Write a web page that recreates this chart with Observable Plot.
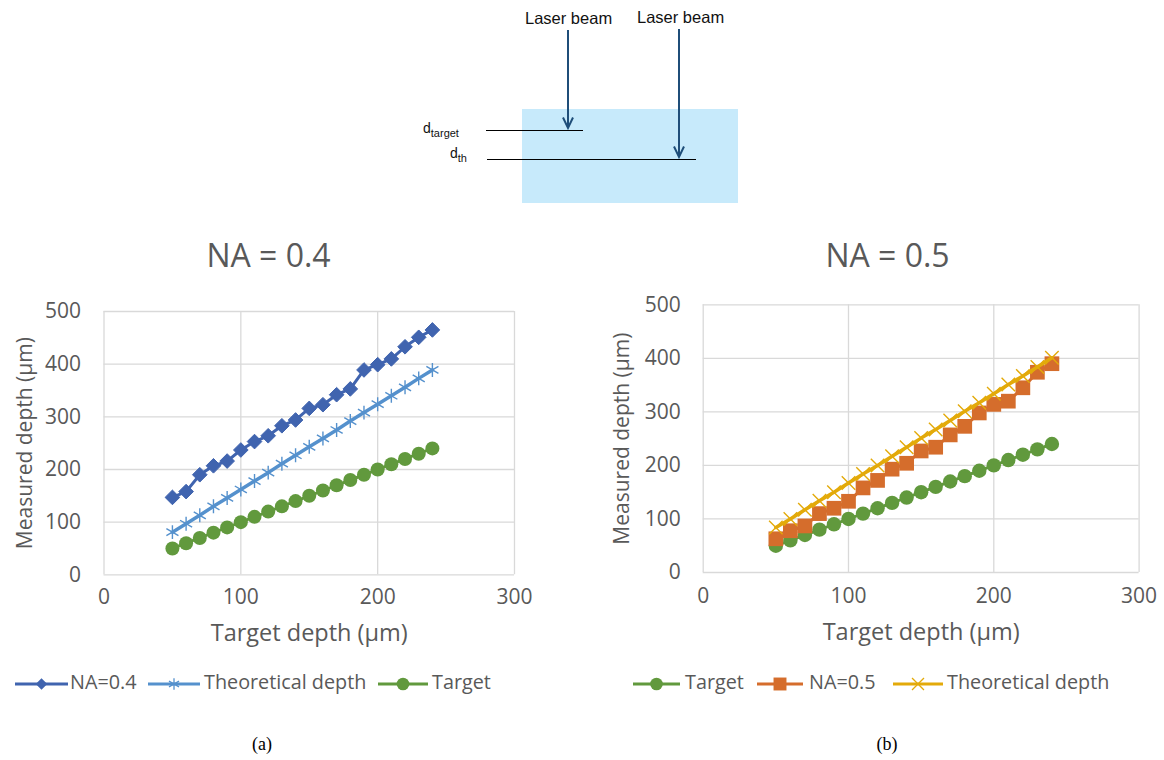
<!DOCTYPE html>
<html><head><meta charset="utf-8">
<script src="https://cdn.jsdelivr.net/npm/d3@7"></script>
<script src="https://cdn.jsdelivr.net/npm/@observablehq/plot@0.6"></script>
<style>
body{margin:0;background:#fff;width:1164px;height:760px;position:relative;overflow:hidden;font-family:"Open Sans",sans-serif;}
.abs{position:absolute;}
.lg{position:absolute;color:#595959;font-size:19.8px;white-space:nowrap;line-height:24px;}
.cap{position:absolute;font-family:"Liberation Serif",serif;font-size:18px;color:#000;transform:translateX(-50%);}
</style></head><body>
<svg class="abs" style="left:0;top:0" width="1164" height="215">
  <rect x="522" y="109" width="216" height="94" fill="#c7eafb"/>
  <g font-family="Liberation Sans, Arial, sans-serif" font-size="16.5" fill="#111">
    <text x="525" y="24">Laser beam</text>
    <text x="637" y="23">Laser beam</text>
  </g>
  <g stroke="#1f4e79" stroke-width="2" fill="none">
    <line x1="568" y1="30" x2="568" y2="127"/>
    <polyline points="563,117.5 568,128 573,117.5"/>
    <line x1="679" y1="29" x2="679" y2="156"/>
    <polyline points="674,146.5 679,157 684,146.5"/>
  </g>
  <g stroke="#000" stroke-width="1">
    <line x1="486" y1="130.5" x2="583" y2="130.5"/>
    <line x1="487" y1="159.5" x2="696" y2="159.5"/>
  </g>
  <g font-family="Liberation Sans, Arial, sans-serif" fill="#111">
    <text x="423" y="133" font-size="14">d<tspan font-size="11" dy="4">target</tspan></text>
    <text x="450" y="158" font-size="14">d<tspan font-size="11" dy="4">th</tspan></text>
  </g>
</svg>
<div id="chartA" class="abs" style="left:0;top:225px"></div>
<div id="chartB" class="abs" style="left:600px;top:225px"></div>
<div id="legendA"></div>
<div id="legendB"></div>
<div class="cap" style="left:262px;top:734px">(a)</div>
<div class="cap" style="left:887px;top:734px">(b)</div>
<script>
// ---- data ----
const depthA = [50,60,70,80,90,100,110,120,130,140,150,160,170,180,190,200,210,220,230,240];
const measuredNA04 = [147,158,190,207,216,237,253,264,283,294,316,323,342,353,389,399,410,433,451,465];
const theoreticalNA04 = [81,97,113,130,146,162,178,194,211,227,243,259,275,292,308,324,340,356,373,389];
const targetA = [50,60,70,80,90,100,110,120,130,140,150,160,170,180,190,200,210,220,230,240];

const depthB = [50,60,70,80,90,100,110,120,130,140,150,160,170,180,190,200,210,220,230,240];
const targetB = [50,60,70,80,90,100,110,120,130,140,150,160,170,180,190,200,210,220,230,240];
const measuredNA05 = [63,78,87,110,120,133,158,172,193,204,227,234,257,273,298,314,320,345,374,390];
const theoreticalNA05 = [84,100,117,134,150,167,184,200,217,234,251,267,284,301,317,334,351,367,384,401];

const xTicks = [0,100,200,300];
const yTicks = [0,100,200,300,400,500];
const titleA = "NA = 0.4";
const titleB = "NA = 0.5";
const xTitle = "Target depth (µm)";
const yTitle = "Measured depth (µm)";
const namesA = ["NA=0.4","Theoretical depth","Target"];
const namesB = ["Target","NA=0.5","Theoretical depth"];

// ---- styles ----
const GRAY = "#595959";
const styles = {
  "NA=0.4": {color:"#4064AF", symbol:"diamond2", r:6.6, filled:true, lw:3, sw:1, lr:5.2},
  "Theoretical depthA": {color:"#5591CD", symbol:"asterisk", r:6.6, filled:false, lw:3.5, sw:1.4, lr:5.5},
  "TargetA": {color:"#61993D", symbol:"circle", r:7, filled:true, lw:3, sw:0, lr:6.3},
  "TargetB": {color:"#61993D", symbol:"circle", r:7.2, filled:true, lw:3, sw:0, lr:6.3},
  "NA=0.5": {color:"#D56D2C", symbol:"square", r:8.3, filled:true, lw:3, sw:0, lr:7.3},
  "Theoretical depthB": {color:"#E3AA0A", symbol:"times", r:6.2, filled:false, lw:3.5, sw:1.4, lr:5.5}
};
const d3sym = {diamond2:d3.symbolDiamond2, asterisk:d3.symbolAsterisk, circle:d3.symbolCircle, square:d3.symbolSquare, times:d3.symbolTimes};

function chart(cfg) {
  const marks = [
    Plot.gridX(xTicks, {stroke:"#d9d9d9", strokeOpacity:1, strokeWidth:1.3}),
    Plot.gridY(yTicks, {stroke:"#d9d9d9", strokeOpacity:1, strokeWidth:1.3}),
    Plot.axisX(xTicks, {tickSize:0, tickPadding:cfg.xPad, fontSize:21, fill:GRAY, label:null}),
    Plot.axisY(yTicks, {tickSize:0, tickPadding:cfg.yPad, fontSize:21, fill:GRAY, label:null})
  ];
  for (const s of cfg.series) {
    const st = styles[s.key];
    const rows = s.x.map((x, i) => ({x, y: s.y[i]}));
    marks.push(Plot.line(rows, {x:"x", y:"y", stroke:st.color, strokeWidth:st.lw}));
    marks.push(Plot.dot(rows, {x:"x", y:"y", symbol:st.symbol, r:st.r,
      fill: st.filled ? st.color : "none", stroke: st.color, strokeWidth: st.sw}));
  }
  marks.push(Plot.text([cfg.title], {text:d=>d, frameAnchor:"top", lineAnchor:"middle", textAnchor:"middle",
    dx:cfg.titleDx, dy:cfg.titleDy, fontSize:32, fill:GRAY}));
  marks.push(Plot.text([xTitle], {text:d=>d, frameAnchor:"bottom", lineAnchor:"middle", textAnchor:"middle",
    dy:cfg.xTitleDy, fontSize:23.5, fill:GRAY}));
  marks.push(Plot.text([yTitle], {text:d=>d, frameAnchor:"left", lineAnchor:"middle", textAnchor:"middle",
    rotate:-90, dx:cfg.yTitleDx, fontSize:21, fill:GRAY}));
  return Plot.plot({
    width: cfg.width, height: cfg.height,
    marginLeft: cfg.ml, marginRight: cfg.mr, marginTop: cfg.mt, marginBottom: cfg.mb,
    x: {domain:[0,300]}, y: {domain:[0,500]},
    style: {fontFamily:"'Open Sans', sans-serif", background:"transparent", color:GRAY, overflow:"visible"},
    marks
  });
}

document.getElementById("chartA").append(chart({
  width:540, height:435, ml:103.5, mr:26, mt:86, mb:85.7,
  xPad:14, yPad:23, titleDx:-40.75, titleDy:-55, xTitleDy:59, yTitleDx:-79, title:titleA,
  series:[
    {key:"NA=0.4", x:depthA, y:measuredNA04},
    {key:"Theoretical depthA", x:depthA, y:theoreticalNA04},
    {key:"TargetA", x:depthA, y:targetA}
  ]
}));
document.getElementById("chartB").append(chart({
  width:564, height:435, ml:102.7, mr:25.4, mt:79.3, mb:88,
  xPad:16, yPad:22.5, titleDx:-33.65, titleDy:-48.3, xTitleDy:60, yTitleDx:-81, title:titleB,
  series:[
    {key:"TargetB", x:depthB, y:targetB},
    {key:"NA=0.5", x:depthB, y:measuredNA05},
    {key:"Theoretical depthB", x:depthB, y:theoreticalNA05}
  ]
}));

// ---- legends ----
function legend(id, items) {
  const host = document.getElementById(id);
  for (const it of items) {
    const st = styles[it.key];
    const w = it.x1 - it.x0;
    const svg = d3.create("svg").attr("width", w).attr("height", 20)
      .style("position","absolute").style("left", it.x0 + "px").style("top", "674px");
    svg.append("line").attr("x1",0).attr("x2",w).attr("y1",10).attr("y2",10)
      .attr("stroke", st.color).attr("stroke-width", 3);
    svg.append("path").attr("transform", `translate(${w/2},10)`)
      .attr("d", d3.symbol(d3sym[st.symbol], Math.PI * st.lr * st.lr)())
      .attr("fill", st.filled ? st.color : "none").attr("stroke", st.color)
      .attr("stroke-width", st.filled ? 0 : 1.3);
    host.append(svg.node());
    const t = document.createElement("div");
    t.className = "lg"; t.textContent = it.name;
    t.style.left = it.tx + "px"; t.style.top = "670px";
    host.append(t);
  }
}
legend("legendA", [
  {key:"NA=0.4", name:namesA[0], x0:15, x1:68, tx:70},
  {key:"Theoretical depthA", name:namesA[1], x0:148, x1:200, tx:204},
  {key:"TargetA", name:namesA[2], x0:378, x1:428, tx:432}
]);
legend("legendB", [
  {key:"TargetB", name:namesB[0], x0:633, x1:680, tx:685},
  {key:"NA=0.5", name:namesB[1], x0:757, x1:803, tx:809},
  {key:"Theoretical depthB", name:namesB[2], x0:893, x1:943, tx:947}
]);
</script>
</body></html>
